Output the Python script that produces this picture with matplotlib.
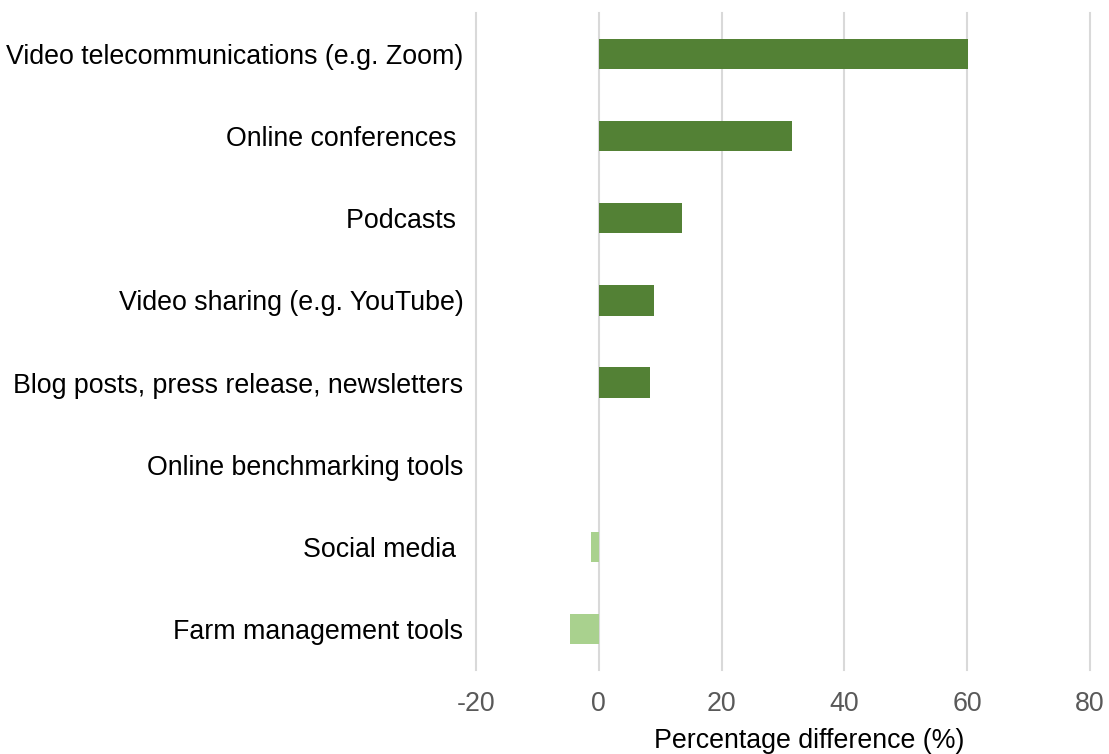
import matplotlib.pyplot as plt

plt.rcParams['font.family'] = ['Liberation Sans', 'DejaVu Sans']

# data (top to bottom)
categories = ['Video telecommunications (e.g. Zoom)', 'Online conferences ', 'Podcasts ',
              'Video sharing (e.g. YouTube)', 'Blog posts, press release, newsletters',
              'Online benchmarking tools', 'Social media ', 'Farm management tools']
values = [60.2, 31.4, 13.5, 9.0, 8.3, 0.0, -1.3, -4.6]
x_ticks = [-20, 0, 20, 40, 60, 80]

dark = '#538135'
light = '#a9d18e'
colors = [dark if v >= 0 else light for v in values]

fig = plt.figure(figsize=(11.09, 7.54), dpi=100)
ax = fig.add_axes([0.429, 0.111, 0.554, 0.872])

ypos = list(range(len(categories)))
ax.barh(ypos, values, height=0.37, color=colors, zorder=3)

ax.set_xlim(-20, 80)
ax.set_ylim(7.5, -0.5)
ax.set_xticks(x_ticks)
ax.set_xticklabels([str(t) for t in x_ticks])
ax.set_yticks(ypos)
ax.set_yticklabels(categories)

ax.xaxis.grid(True, color='#d9d9d9', linewidth=1.5, zorder=0)
for gl in ax.get_xgridlines():
    gl.set_clip_on(False)
for s in ax.spines.values():
    s.set_visible(False)
ax.tick_params(axis='y', length=0, pad=9, labelsize=19.3, labelcolor='black')
ax.tick_params(axis='x', length=0, pad=15, labelsize=19.3, labelcolor='#595959')

ax.set_xlabel('Percentage difference (%)', fontsize=19.3, color='black')
ax.xaxis.set_label_coords(0.542, -0.088)

fig.savefig('out.png', dpi=100)
